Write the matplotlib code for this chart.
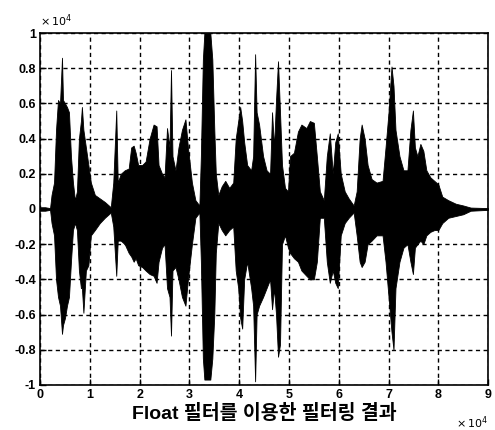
import numpy as np
import matplotlib.pyplot as plt

plt.rcParams['font.family'] = ['Liberation Sans', 'Noto Sans CJK KR', 'DejaVu Sans']

# sample index (x 10^4) and amplitude envelope (x 10^4) of the filtered signal
env_x = np.array([
    0.00, 0.10, 0.20, 0.23, 0.28, 0.32, 0.36, 0.40, 0.44, 0.46,
    0.50, 0.54, 0.58, 0.62, 0.66, 0.70, 0.74, 0.78, 0.82, 0.84,
    0.87, 0.92, 0.97, 1.02, 1.10, 1.20, 1.30, 1.42, 1.47, 1.53,
    1.56, 1.62, 1.70, 1.78, 1.83, 1.88, 1.92, 1.97, 2.05, 2.12,
    2.20, 2.28, 2.34, 2.38, 2.45, 2.50, 2.55, 2.60, 2.63, 2.66,
    2.72, 2.78, 2.85, 2.92, 2.97, 3.05, 3.12, 3.20, 3.23, 3.27,
    3.30, 3.42, 3.46, 3.50, 3.53, 3.58, 3.65, 3.72, 3.80, 3.88,
    3.93, 3.98, 4.02, 4.06, 4.10, 4.16, 4.24, 4.28, 4.32, 4.35,
    4.40, 4.48, 4.55, 4.62, 4.66, 4.70, 4.74, 4.78, 4.82, 4.86,
    4.92, 4.98, 5.02, 5.10, 5.18, 5.25, 5.35, 5.42, 5.50, 5.56,
    5.62, 5.70, 5.76, 5.82, 5.88, 5.93, 5.98, 6.04, 6.12, 6.20,
    6.30, 6.36, 6.42, 6.46, 6.52, 6.58, 6.66, 6.76, 6.88, 6.94,
    7.00, 7.06, 7.10, 7.14, 7.22, 7.30, 7.38, 7.44, 7.49, 7.53,
    7.58, 7.64, 7.70, 7.76, 7.84, 7.92, 8.00, 8.08, 8.20, 8.35,
    8.50, 8.65, 9.00])

env_upper = np.array([
    0.01, 0.01, 0.005, 0.08, 0.15, 0.45, 0.62, 0.60, 0.86, 0.62,
    0.60, 0.58, 0.55, 0.30, 0.15, 0.05, 0.10, 0.40, 0.50, 0.58,
    0.45, 0.35, 0.25, 0.15, 0.08, 0.06, 0.04, 0.01, 0.15, 0.56,
    0.15, 0.20, 0.22, 0.23, 0.35, 0.36, 0.32, 0.25, 0.25, 0.27,
    0.40, 0.48, 0.47, 0.25, 0.20, 0.18, 0.46, 0.35, 0.79, 0.30,
    0.22, 0.35, 0.45, 0.51, 0.35, 0.15, 0.05, 0.02, 0.30, 0.85,
    1.00, 1.00, 0.85, 0.45, 0.20, 0.08, 0.13, 0.16, 0.12, 0.15,
    0.40, 0.50, 0.58, 0.50, 0.38, 0.25, 0.22, 0.30, 0.88, 0.55,
    0.48, 0.30, 0.22, 0.20, 0.55, 0.35, 0.62, 0.84, 0.55, 0.25,
    0.12, 0.10, 0.30, 0.32, 0.44, 0.48, 0.46, 0.50, 0.49, 0.30,
    0.10, 0.05, 0.30, 0.43, 0.20, 0.38, 0.43, 0.20, 0.10, 0.06,
    0.02, 0.10, 0.40, 0.48, 0.40, 0.25, 0.17, 0.15, 0.16, 0.35,
    0.55, 0.81, 0.70, 0.45, 0.30, 0.22, 0.22, 0.45, 0.56, 0.35,
    0.30, 0.37, 0.33, 0.22, 0.18, 0.16, 0.14, 0.07, 0.05, 0.03,
    0.02, 0.008, 0.005])

env_lower = np.array([
    -0.01, -0.01, -0.005, -0.08, -0.15, -0.40, -0.50, -0.55, -0.71, -0.66,
    -0.62, -0.55, -0.50, -0.30, -0.12, -0.08, -0.12, -0.35, -0.45, -0.45,
    -0.59, -0.35, -0.32, -0.15, -0.12, -0.08, -0.05, -0.02, -0.10, -0.38,
    -0.18, -0.18, -0.20, -0.25, -0.27, -0.30, -0.28, -0.32, -0.33, -0.35,
    -0.37, -0.38, -0.42, -0.30, -0.22, -0.20, -0.45, -0.50, -0.72, -0.35,
    -0.33, -0.40, -0.50, -0.55, -0.40, -0.20, -0.05, -0.02, -0.30, -0.85,
    -0.97, -0.97, -0.85, -0.60, -0.25, -0.08, -0.12, -0.15, -0.12, -0.10,
    -0.35, -0.45, -0.62, -0.68, -0.40, -0.30, -0.45, -0.55, -0.98, -0.60,
    -0.55, -0.50, -0.45, -0.40, -0.57, -0.45, -0.60, -0.84, -0.77, -0.20,
    -0.15, -0.22, -0.25, -0.28, -0.30, -0.35, -0.38, -0.40, -0.40, -0.30,
    -0.05, -0.05, -0.30, -0.42, -0.35, -0.42, -0.45, -0.15, -0.08, -0.05,
    -0.02, -0.15, -0.30, -0.33, -0.30, -0.20, -0.18, -0.15, -0.15, -0.30,
    -0.50, -0.70, -0.80, -0.45, -0.30, -0.22, -0.20, -0.30, -0.37, -0.22,
    -0.20, -0.18, -0.20, -0.15, -0.13, -0.12, -0.12, -0.08, -0.05, -0.04,
    -0.03, -0.01, -0.005])

x_ticks = [0, 1, 2, 3, 4, 5, 6, 7, 8, 9]
y_ticks = [-1, -0.8, -0.6, -0.4, -0.2, 0, 0.2, 0.4, 0.6, 0.8, 1]
y_labels = ['-1', '-0.8', '-0.6', '-0.4', '-0.2', '0', '0.2', '0.4', '0.6', '0.8', '1']
title = 'Float 필터를 이용한 필터링 결과'

fig = plt.figure(figsize=(4.95, 4.30), dpi=100)
ax = fig.add_axes([0.081, 0.105, 0.905, 0.818])

ax.fill_between(env_x, env_lower, env_upper, color='black', linewidth=0.6, zorder=2)

ax.set_xlim(0, 9)
ax.set_ylim(-1, 1)
ax.set_xticks(x_ticks)
ax.set_xticklabels([str(t) for t in x_ticks])
ax.set_yticks(y_ticks)
ax.set_yticklabels(y_labels)
ax.tick_params(direction='in', length=4, width=1, labelsize=9, pad=3)
for lab in ax.get_xticklabels() + ax.get_yticklabels():
    lab.set_fontweight('bold')

ax.grid(True, color='black', linestyle=(0, (3, 2.5)), linewidth=1.0, zorder=1)
ax.set_axisbelow(True)
for s in ax.spines.values():
    s.set_linewidth(1.2)

ax.set_xlabel(title, fontsize=14, fontweight='bold', labelpad=2,
              family=['Liberation Sans', 'Noto Sans CJK KR'])

# exponent labels, MATLAB style
ax.text(0.0, 1.012, r'$\times\,10^{4}$', transform=ax.transAxes, fontsize=8,
        ha='left', va='bottom')
ax.text(1.0, -0.085, r'$\times\,10^{4}$', transform=ax.transAxes, fontsize=8,
        ha='right', va='top')

fig.savefig('out.png', dpi=100)
